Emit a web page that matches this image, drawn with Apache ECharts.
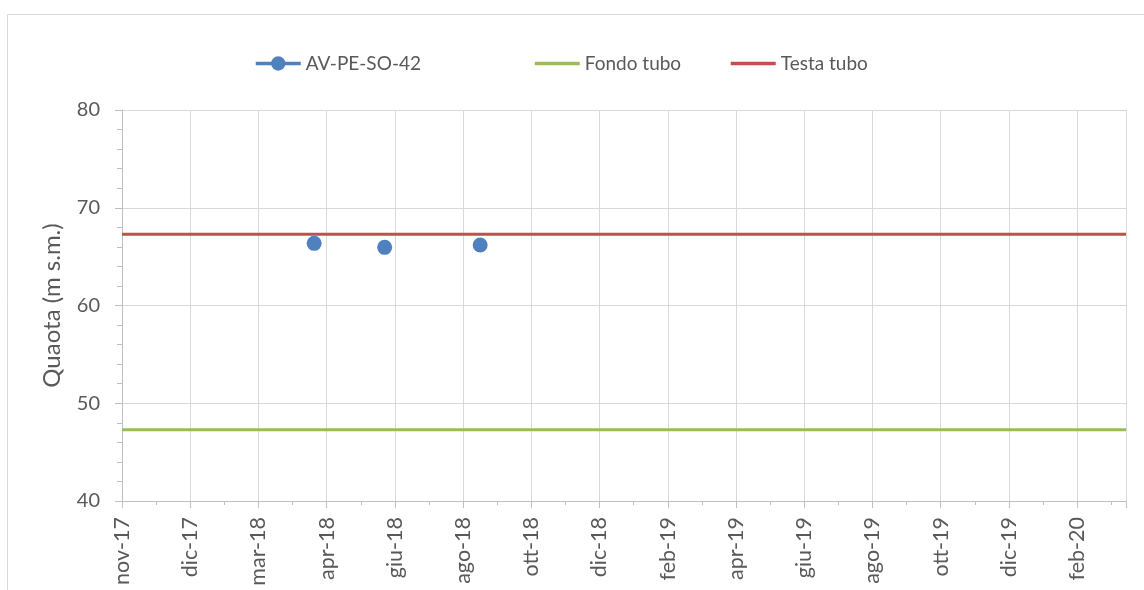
<!DOCTYPE html>
<html>
<head>
<meta charset="utf-8">
<script src="https://cdn.jsdelivr.net/npm/echarts@6/dist/echarts.min.js"></script>
<style>
html,body{margin:0;padding:0;background:#fff;}
#chart{width:1144px;height:590px;}
</style>
</head>
<body>
<div id="chart"></div>
<script>
// ---- data ----
const axisStart = '2017-11-01';
const axisEnd = '2020-04-02';
const tickStepDays = 60;
const xTickLabels = ['nov-17','dic-17','mar-18','apr-18','giu-18','ago-18','ott-18','dic-18','feb-19','apr-19','giu-19','ago-19','ott-19','dic-19','feb-20'];
const yTicks = [40, 50, 60, 70, 80];

const seriesNames = ['AV-PE-SO-42', 'Fondo tubo', 'Testa tubo'];
const measureDates = ['2018-04-19', '2018-06-20', '2018-09-12'];
const measureValues = [66.36, 65.95, 66.19];
const fondoDates = [axisStart, axisEnd];
const fondoValues = [47.3, 47.3];
const testaDates = [axisStart, axisEnd];
const testaValues = [67.3, 67.3];

// ---- helpers ----
function dayOffset(s) {
  const a = s.split('-').map(Number);
  const b = axisStart.split('-').map(Number);
  return (Date.UTC(a[0], a[1] - 1, a[2]) - Date.UTC(b[0], b[1] - 1, b[2])) / 86400000;
}
function pairs(dates, vals) { return dates.map((d, i) => [dayOffset(d), vals[i]]); }

const FONT = "Lato, sans-serif";
const TXT = '#595959';
const GRIDC = '#d9d9d9';
const AXISC = '#bfbfbf';

const chart = echarts.init(document.getElementById('chart'), null, {renderer: 'canvas'});

function legendAt(left, name, color, extra) {
  return Object.assign({
    show: true, left: left, top: 54, padding: 0, orient: 'horizontal',
    itemWidth: 45, itemHeight: 18, itemGap: 10,
    data: [name],
    textStyle: {color: TXT, fontSize: 19, fontFamily: FONT},
    lineStyle: {opacity: 1, width: 3.5, color: color},
    selectedMode: false
  }, extra || {});
}

chart.setOption({
  animation: false,
  backgroundColor: '#fff',
  graphic: [{
    type: 'rect', shape: {x: 7.5, y: 14.5, width: 1200, height: 700},
    style: {fill: 'none', stroke: GRIDC, lineWidth: 1}, silent: true, z: -1
  }],
  legend: [
    legendAt(254, seriesNames[0], '#4f81bd'),
    legendAt(533, seriesNames[1], '#9bbb59', {itemStyle: {opacity: 0}}),
    legendAt(729, seriesNames[2], '#c0504d', {itemStyle: {opacity: 0}})
  ],
  grid: {left: 122, right: 18, top: 110, bottom: 89, containLabel: false},
  xAxis: {
    type: 'value',
    min: 0, max: dayOffset(axisEnd), interval: tickStepDays,
    axisLine: {show: true, lineStyle: {color: AXISC, width: 1}},
    axisTick: {show: true, inside: false, length: 7, lineStyle: {color: AXISC}},
    minorTick: {show: true, splitNumber: 2, length: 4, lineStyle: {color: AXISC}},
    splitLine: {show: true, lineStyle: {color: GRIDC, width: 1}},
    axisLabel: {
      rotate: 90, margin: 16, color: TXT, fontSize: 21.5, fontFamily: FONT,
      showMaxLabel: false,
      formatter: function (v) {
        const i = Math.round(v / tickStepDays);
        return (Math.abs(v - i * tickStepDays) < 0.01 && xTickLabels[i]) ? xTickLabels[i] : '';
      }
    }
  },
  yAxis: {
    type: 'value', min: yTicks[0], max: yTicks[yTicks.length - 1], interval: 10,
    name: 'Quaota (m s.m.)', nameLocation: 'middle', nameGap: 58, nameRotate: 90,
    nameTextStyle: {color: TXT, fontSize: 24, fontFamily: FONT},
    axisLine: {show: true, lineStyle: {color: AXISC, width: 1}},
    axisTick: {show: true, inside: false, length: 7, lineStyle: {color: AXISC}},
    minorTick: {show: true, splitNumber: 5, length: 5, lineStyle: {color: AXISC}},
    splitLine: {show: true, lineStyle: {color: GRIDC, width: 1}},
    axisLabel: {margin: 22, color: TXT, fontSize: 20, fontFamily: FONT}
  },
  series: [
    {
      name: seriesNames[1], type: 'line', data: pairs(fondoDates, fondoValues),
      symbol: 'none', lineStyle: {color: '#9bbb59', width: 3}, itemStyle: {color: '#9bbb59'}, z: 2
    },
    {
      name: seriesNames[2], type: 'line', data: pairs(testaDates, testaValues),
      symbol: 'none', lineStyle: {color: '#c0504d', width: 3}, itemStyle: {color: '#c0504d'}, z: 2
    },
    {
      name: seriesNames[0], type: 'line', data: pairs(measureDates, measureValues),
      symbol: 'circle', symbolSize: 15,
      lineStyle: {color: '#4f81bd', width: 3, opacity: 0},
      itemStyle: {color: '#4f81bd'}, z: 3
    }
  ]
});
</script>
</body>
</html>
